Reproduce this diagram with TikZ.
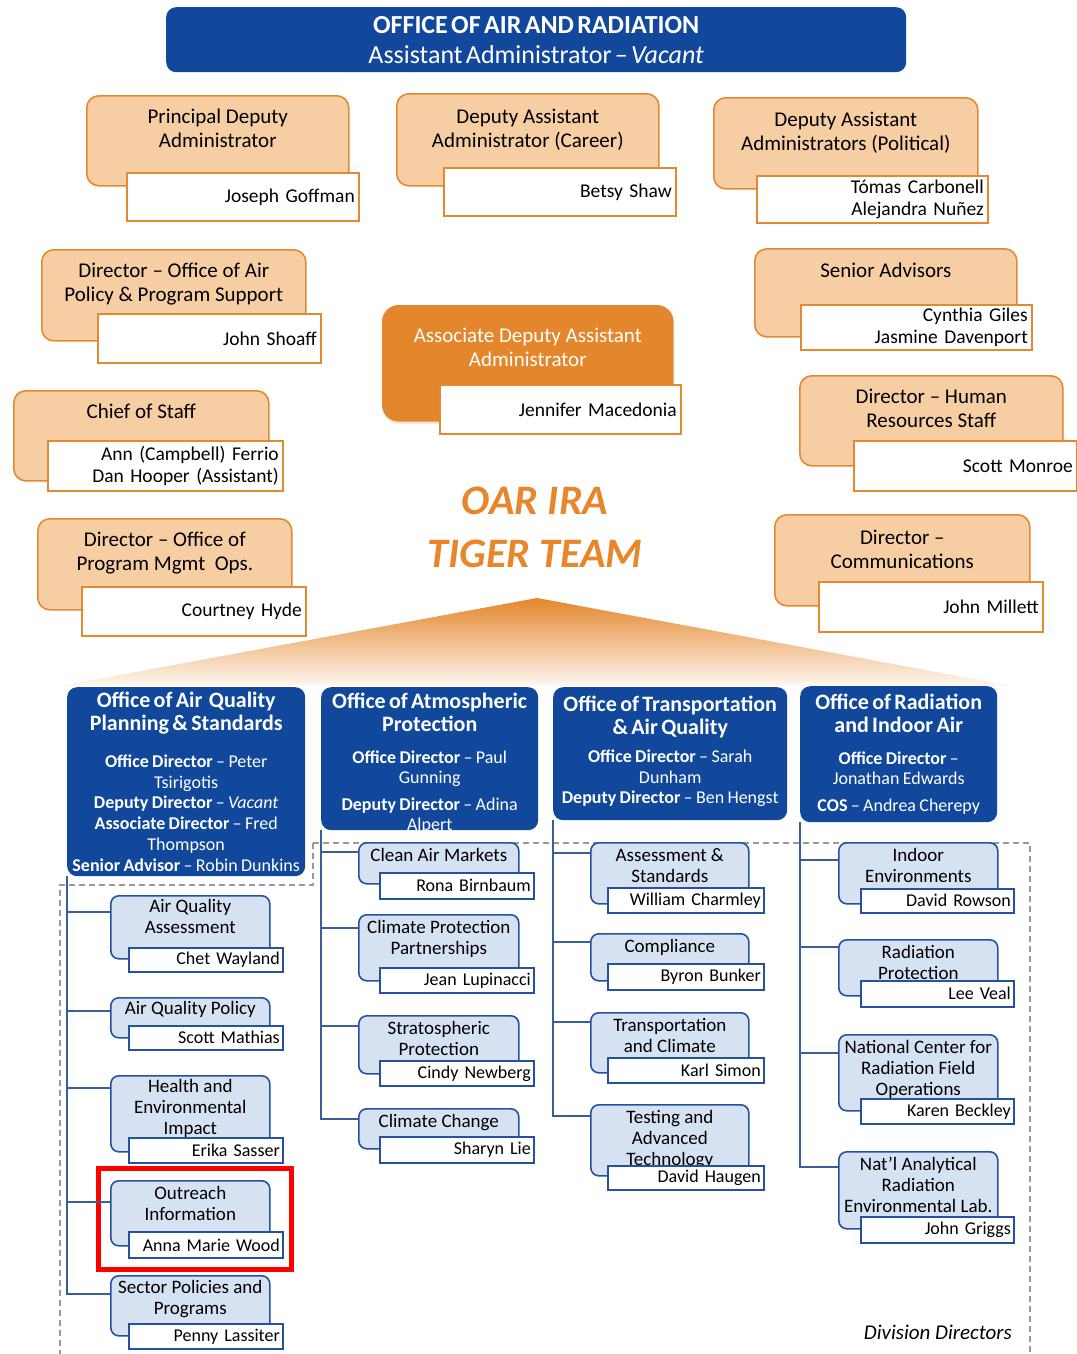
\documentclass[tikz,border=0pt]{standalone}
\usepackage{fontspec}
\setmainfont{Carlito}
\usetikzlibrary{shadows}

\definecolor{oarblue}{RGB}{17,72,155}
\definecolor{orangefill}{RGB}{247,206,163}
\definecolor{orangeline}{RGB}{226,138,48}
\definecolor{adaafill}{RGB}{228,134,44}
\definecolor{tigertext}{RGB}{232,134,44}
\definecolor{divfill}{RGB}{214,226,242}
\definecolor{divline}{RGB}{36,82,160}
\definecolor{treeline}{RGB}{58,94,150}

\tikzset{
  obox/.style={draw=orangeline, fill=orangefill, line width=1.6pt, rounded corners=12pt, inner sep=0pt, anchor=north west},
  otitle/.style={anchor=north, align=center, inner sep=0pt, font=\fontsize{21}{24}\selectfont},
  oname/.style={draw=orangeline, fill=white, line width=1.6pt, inner xsep=4pt, inner ysep=0pt, align=right, anchor=north west, font=\fontsize{19.5}{22}\selectfont},
  hdrbox/.style={fill=oarblue, rounded corners=10pt, text=white, align=center, inner sep=0pt, anchor=north west},
  dbox/.style={draw=divline, fill=divfill, line width=1.6pt, rounded corners=8pt, inner sep=0pt, anchor=north west},
  dtitle/.style={anchor=north, yshift=-6pt, align=center, inner sep=0pt, font=\fontsize{19}{21}\selectfont},
  dname/.style={draw=divline, fill=white, line width=1.6pt, inner xsep=3pt, inner ysep=0pt, align=right, anchor=north west, font=\fontsize{18}{21}\selectfont},
  tree/.style={draw=treeline, line width=1.4pt},
  frame/.style={draw=black!40, line width=1.1pt, dash pattern=on 6pt off 4pt}
}

\begin{document}
\begin{tikzpicture}[x=1pt, y=-1pt]
  \useasboundingbox (0,0) rectangle (1076,1354);

  % orange fan and division frame
  \shade[top color=adaafill, bottom color=orangefill!15] (60,686) -- (537,598) -- (1012,686) -- cycle;
  \draw[frame] (313,843) -- (1030,843) -- (1030,1354)
    (313,843) -- (313,885) -- (60,885) -- (60,1354);

  \node[hdrbox, text width=740pt, minimum height=65pt] (oar) at (166,7)
    {{\fontsize{26}{30}\selectfont\bfseries OFFICE OF AIR AND RADIATION\par}
     {\fontsize{26}{30}\selectfont Assistant Administrator -- \textit{Vacant}\par}};

  % front office
  \node[obox, minimum width=262pt, minimum height=90pt] (pda) at (86,95) {};
  \node[otitle] (pdat) at ([yshift=-14pt]pda.north) {Principal Deputy\\Administrator};
  \node[oname, text width=224pt, minimum height=48pt] (pdan) at (126,172) {Joseph Goffman};

  \node[obox, minimum width=262pt, minimum height=92pt] (daac) at (396,93) {};
  \node[otitle] (daact) at ([yshift=-16pt]daac.north) {Deputy Assistant\\Administrator (Career)};
  \node[oname, text width=224pt, minimum height=48pt] (daacn) at (443,167) {Betsy Shaw};

  \node[obox, minimum width=264pt, minimum height=91pt] (daap) at (713,97) {};
  \node[otitle] (daapt) at ([yshift=-15pt]daap.north) {Deputy Assistant\\Administrators (Political)};
  \node[oname, text width=223pt, minimum height=47pt] (daapn) at (756,175) {Tómas Carbonell\\Alejandra Nuñez};

  \node[obox, minimum width=264pt, minimum height=91pt] (oapps) at (41,249) {};
  \node[otitle] (oappst) at ([yshift=-14pt]oapps.north) {Director -- Office of Air\\Policy \& Program Support};
  \node[oname, text width=215pt, minimum height=49pt] (oappsn) at (97,313) {John Shoaff};

  \node[obox, minimum width=255pt, minimum height=90pt] (cos) at (13,390) {};
  \node[otitle] (cost) at ([yshift=-14pt]cos.north) {Chief of Staff};
  \node[oname, text width=227pt, minimum height=50pt] (cosn) at (47,440) {Ann (Campbell) Ferrio\\Dan Hooper (Assistant)};

  \node[obox, minimum width=254pt, minimum height=91pt] (opmo) at (37,518) {};
  \node[otitle] (opmot) at ([yshift=-14pt]opmo.north) {Director -- Office of\\Program Mgmt\ \ Ops.};
  \node[oname, text width=216pt, minimum height=49pt] (opmon) at (81,586) {Courtney Hyde};

  \node[obox, minimum width=262pt, minimum height=88pt] (sa) at (754,248) {};
  \node[otitle] (sat) at ([yshift=-15pt]sa.north) {Senior Advisors};
  \node[oname, text width=223pt, minimum height=45pt] (san) at (800,304) {Cynthia Giles\\Jasmine Davenport};

  \node[obox, minimum width=263pt, minimum height=90pt] (hrs) at (799,375) {};
  \node[otitle] (hrst) at ([yshift=-14pt]hrs.north) {Director -- Human\\Resources Staff};
  \node[oname, text width=215pt, minimum height=50pt] (hrsn) at (853,440) {Scott Monroe};

  \node[obox, minimum width=255pt, minimum height=91pt] (com) at (774,514) {};
  \node[otitle] (comt) at ([yshift=-16pt]com.north) {Director --\\Communications};
  \node[oname, text width=216pt, minimum height=50pt] (comn) at (818,581) {John Millett};

  \node[obox, fill=adaafill, draw=adaafill, rounded corners=16pt, minimum width=290pt, minimum height=115pt,
    drop shadow={fill=adaafill!50, opacity=.4, shadow xshift=0pt, shadow yshift=-3pt}] (adaa) at (382,305) {};
  \node[otitle, text=white] (adaat) at ([yshift=-23pt]adaa.north) {Associate Deputy Assistant\\Administrator};
  \node[oname, text width=233pt, minimum height=49pt] (adaan) at (439,384) {Jennifer Macedonia};

  \node[align=center, text=tigertext, font=\fontsize{42}{53}\selectfont\bfseries\itshape] (tiger) at (535,527) {OAR IRA\\TIGER TEAM};

  % offices
  \node[hdrbox, text width=238pt, minimum height=189pt] (oaqps) at (67,687)
    {{\fontsize{22}{23}\selectfont\bfseries Office of Air\ \ Quality\\Planning \& Standards\par}\vspace{16pt}
     {\fontsize{18}{20.8}\selectfont\textbf{Office Director} -- Peter\\Tsirigotis\\\textbf{Deputy Director} -- \textit{Vacant}\\
      \textbf{Associate Director} -- Fred\\Thompson\\\textbf{Senior Advisor} -- Robin Dunkins\par}};
  \node[hdrbox, text width=217pt, minimum height=143pt] (oap) at (321,687)
    {{\fontsize{22}{23}\selectfont\bfseries Office of Atmospheric\\Protection\par}\vspace{12pt}
     {\fontsize{18}{20}\selectfont\textbf{Office Director} -- Paul\\Gunning\\[7pt]\textbf{Deputy Director} -- Adina\\Alpert\par}\vspace{-10pt}};
  \node[hdrbox, text width=234pt, minimum height=133pt] (otaq) at (553,687)
    {{\fontsize{22}{23}\selectfont\bfseries Office of Transportation\\\& Air Quality\par}\vspace{8pt}
     {\fontsize{18}{20.5}\selectfont\textbf{Office Director} -- Sarah\\Dunham\\\textbf{Deputy Director} -- Ben Hengst\par}\vspace{5pt}};
  \node[hdrbox, text width=197pt, minimum height=136pt] (oria) at (800,686)
    {{\fontsize{22}{23}\selectfont\bfseries Office of Radiation\\and Indoor Air\par}\vspace{12pt}
     {\fontsize{18}{20}\selectfont\textbf{Office Director} --\\Jonathan Edwards\\[7pt]\textbf{COS} -- Andrea Cherepy\par}};

  % divisions
  \node[dbox, minimum width=159pt, minimum height=63pt] (aqa) at (110,895) {};
  \node[dtitle] (aqat) at ([yshift=2pt]aqa.north) {Air Quality\\Assessment};
  \node[dname, text width=148pt, minimum height=24pt] (aqan) at (128,947) {Chet Wayland};

  \node[dbox, minimum width=159pt, minimum height=40pt] (aqp) at (110,997) {};
  \node[dtitle] (aqpt) at ([yshift=2pt]aqp.north) {Air Quality Policy};
  \node[dname, text width=148pt, minimum height=24pt] (aqpn) at (128,1025) {Scott Mathias};

  \node[dbox, minimum width=159pt, minimum height=76pt] (hei) at (110,1075) {};
  \node[dtitle] (heit) at ([yshift=2pt]hei.north) {Health and\\Environmental\\Impact};
  \node[dname, text width=148pt, minimum height=25pt] (hein) at (128,1137) {Erika Sasser};

  \node[dbox, minimum width=159pt, minimum height=65pt] (oi) at (110,1180) {};
  \node[dtitle] (oit) at (oi.north) {Outreach\\Information};
  \node[dname, text width=148pt, minimum height=26pt] (oin) at (128,1231) {Anna Marie Wood};

  \node[dbox, minimum width=159pt, minimum height=60pt] (spp) at (110,1275) {};
  \node[dtitle] (sppt) at ([yshift=1pt]spp.north) {Sector Policies and\\Programs};
  \node[dname, text width=148pt, minimum height=25pt] (sppn) at (128,1323) {Penny Lassiter};

  \node[dbox, minimum width=160pt, minimum height=41pt] (cam) at (358,842) {};
  \node[dtitle] (camt) at (cam.north) {Clean Air Markets};
  \node[dname, text width=148pt, minimum height=26pt] (camn) at (379,872) {Rona Birnbaum};

  \node[dbox, minimum width=160pt, minimum height=66pt] (cpp) at (358,914) {};
  \node[dtitle] (cppt) at (cpp.north) {Climate Protection\\Partnerships};
  \node[dname, text width=148pt, minimum height=25pt] (cppn) at (379,967) {Jean Lupinacci};

  \node[dbox, minimum width=160pt, minimum height=58pt] (sp) at (358,1015) {};
  \node[dtitle] (spt) at (sp.north) {Stratospheric\\Protection};
  \node[dname, text width=148pt, minimum height=25pt] (spn) at (379,1060) {Cindy Newberg};

  \node[dbox, minimum width=160pt, minimum height=40pt] (cc) at (358,1108) {};
  \node[dtitle] (cct) at (cc.north) {Climate Change};
  \node[dname, text width=148pt, minimum height=26pt] (ccn) at (379,1136) {Sharyn Lie};

  \node[dbox, minimum width=158pt, minimum height=61pt] (as) at (590,842) {};
  \node[dtitle] (ast) at (as.north) {Assessment \&\\Standards};
  \node[dname, text width=150pt, minimum height=25pt] (asn) at (607,887) {William Charmley};

  \node[dbox, minimum width=158pt, minimum height=47pt] (cmp) at (590,933) {};
  \node[dtitle] (cmpt) at (cmp.north) {Compliance};
  \node[dname, text width=150pt, minimum height=26pt] (cmpn) at (607,963) {Byron Bunker};

  \node[dbox, minimum width=158pt, minimum height=60pt] (tc) at (590,1012) {};
  \node[dtitle] (tct) at (tc.north) {Transportation\\and Climate};
  \node[dname, text width=150pt, minimum height=25pt] (tcn) at (607,1057) {Karl Simon};

  \node[dbox, minimum width=158pt, minimum height=71pt] (tat) at (590,1104) {};
  \node[dtitle] (tatt) at (tat.north) {Testing and\\Advanced\\Technology};
  \node[dname, text width=150pt, minimum height=24pt] (tatn) at (607,1165) {David Haugen};

  \node[dbox, minimum width=159pt, minimum height=61pt] (ie) at (838,842) {};
  \node[dtitle] (iet) at (ie.north) {Indoor\\Environments};
  \node[dname, text width=147pt, minimum height=24pt] (ien) at (860,888) {David Rowson};

  \node[dbox, minimum width=159pt, minimum height=56pt] (rp) at (838,939) {};
  \node[dtitle] (rpt) at (rp.north) {Radiation\\Protection};
  \node[dname, text width=147pt, minimum height=26pt] (rpn) at (860,980) {Lee Veal};

  \node[dbox, minimum width=159pt, minimum height=76pt] (nc) at (838,1034) {};
  \node[dtitle] (nct) at (nc.north) {National Center for\\Radiation Field\\Operations};
  \node[dname, text width=147pt, minimum height=25pt] (ncn) at (860,1098) {Karen Beckley};

  \node[dbox, minimum width=159pt, minimum height=77pt] (na) at (838,1151) {};
  \node[dtitle] (nat) at (na.north) {Nat’l Analytical\\Radiation\\Environmental Lab.};
  \node[dname, text width=147pt, minimum height=26pt] (nan) at (860,1216) {John Griggs};

  \node[draw=red, line width=4.5pt, inner sep=0pt, minimum width=193pt, minimum height=101pt, anchor=north west] (mark) at (96,1166) {};

  \node[anchor=east, inner sep=0pt, font=\fontsize{21}{24}\selectfont\itshape] (divdir) at (1012,1332) {Division Directors};

  % tree lines
  \draw[tree] (oaqps.south west) |- ([yshift=-17pt]aqa.north west);
  \draw[tree] (oaqps.south west) |- ([yshift=-14pt]aqp.north west);
  \draw[tree] (oaqps.south west) |- ([yshift=-13pt]hei.north west);
  \draw[tree] (oaqps.south west) |- ([yshift=-22pt]oi.north west);
  \draw[tree] (oaqps.south west) |- ([yshift=-19pt]spp.north west);
  \draw[tree] (oap.south west) |- ([yshift=-10pt]cam.north west);
  \draw[tree] (oap.south west) |- ([yshift=-14pt]cpp.north west);
  \draw[tree] (oap.south west) |- ([yshift=-11pt]sp.north west);
  \draw[tree] (oap.south west) |- ([yshift=-11pt]cc.north west);
  \draw[tree] (otaq.south west) |- ([yshift=-11pt]as.north west);
  \draw[tree] (otaq.south west) |- ([yshift=-9pt]cmp.north west);
  \draw[tree] (otaq.south west) |- ([yshift=-10pt]tc.north west);
  \draw[tree] (otaq.south west) |- ([yshift=-12pt]tat.north west);
  \draw[tree] (oria.south west) |- ([yshift=-18pt]ie.north west);
  \draw[tree] (oria.south west) |- ([yshift=-8pt]rp.north west);
  \draw[tree] (oria.south west) |- ([yshift=-19pt]nc.north west);
  \draw[tree] (oria.south west) |- ([yshift=-16pt]na.north west);
\end{tikzpicture}
\end{document}
